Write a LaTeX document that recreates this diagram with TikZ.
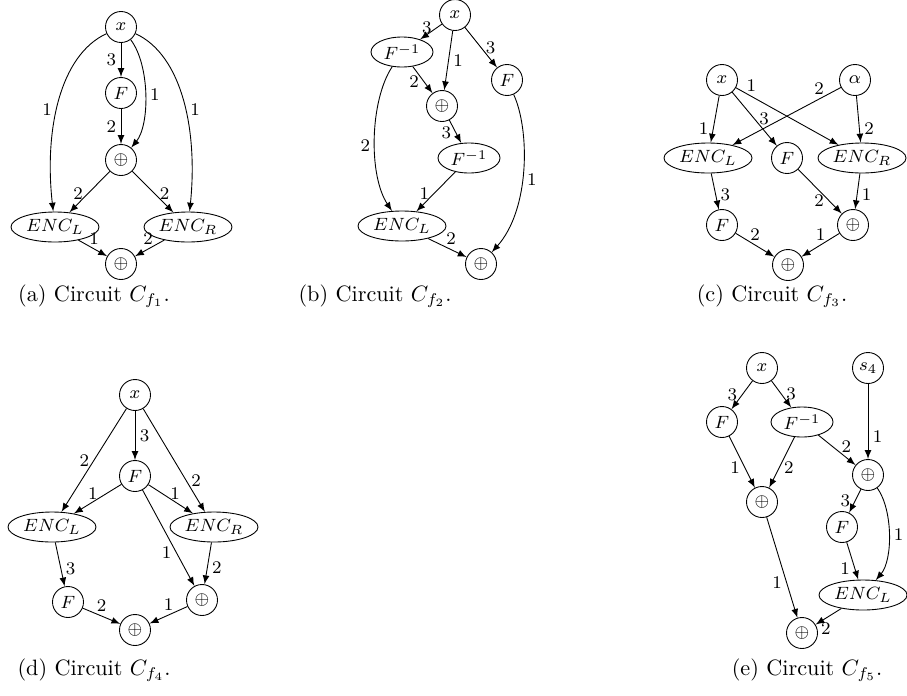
\documentclass[tikz,border=0pt]{standalone}
\usetikzlibrary{shapes.geometric}
\tikzset{
  every node/.style={font=\footnotesize},
  gate/.style={draw, circle, minimum size=13.95pt, inner sep=0pt},
  encbox/.style={draw, ellipse, minimum width=39.6pt, minimum height=13.5pt, inner sep=0pt},
  invbox/.style={draw, ellipse, minimum width=27.9pt, minimum height=13.5pt, inner sep=0pt},
  wire/.style={-latex},
  lbl/.style={inner sep=2pt},
  captext/.style={font=\normalsize, inner sep=0pt}
}
\begin{document}
\begin{tikzpicture}[x=0.45pt, y=-0.45pt]
\useasboundingbox (0,0) rectangle (907,695);

% ---------- (a) ----------
\node[gate] (a-x) at (121,27) {$x$};
\node[gate] (a-f) at (121,93) {$F$};
\node[gate] (a-o1) at (121,160) {$\oplus$};
\node[encbox] (a-el) at (55,227) {$ENC_L$};
\node[encbox] (a-er) at (188,227) {$ENC_R$};
\node[gate] (a-o2) at (121,264) {$\oplus$};
\draw[wire] (a-x) -- node[lbl,left] {3} (a-f);
\draw[wire] (a-f) -- node[lbl,left] {2} (a-o1);
\draw[wire] (a-x) .. controls (150,65) and (150,125) .. node[lbl,right] {1} (a-o1);
\draw[wire] (a-x) .. controls (60,55) and (44,130) .. node[lbl,left,pos=0.55] {1} (a-el);
\draw[wire] (a-x) .. controls (182,55) and (198,130) .. node[lbl,right,pos=0.55] {1} (a-er);
\draw[wire] (a-o1) -- node[lbl,left,pos=0.55] {2} (a-el);
\draw[wire] (a-o1) -- node[lbl,right,pos=0.55] {2} (a-er);
\draw[wire] (a-el) -- node[lbl,above,pos=0.55] {1} (a-o2);
\draw[wire] (a-er) -- node[lbl,above,pos=0.55] {2} (a-o2);
\node[captext] (a-cap) at (94,296) {(a) Circuit $C_{f_1}$.};

% ---------- (b) ----------
\node[gate] (b-x) at (455,15) {$x$};
\node[invbox] (b-i1) at (402,52) {$F^{-1}$};
\node[gate] (b-o1) at (442,106) {$\oplus$};
\node[gate] (b-f) at (507,80) {$F$};
\node[invbox] (b-i2) at (469,158) {$F^{-1}$};
\node[encbox] (b-el) at (402,226) {$ENC_L$};
\node[gate] (b-o2) at (481,264) {$\oplus$};
\draw[wire] (b-x) -- node[lbl,left,pos=0.25] {3} (b-i1);
\draw[wire] (b-x) -- node[lbl,right] {1} (b-o1);
\draw[wire] (b-x) -- node[lbl,right] {3} (b-f);
\draw[wire] (b-i1) -- node[lbl,left,pos=0.55] {2} (b-o1);
\draw[wire] (b-o1) -- node[lbl,left,pos=0.55] {3} (b-i2);
\draw[wire] (b-i1) .. controls (370,100) and (368,175) .. node[lbl,left,pos=0.55] {2} (b-el);
\draw[wire] (b-i2) -- node[lbl,left,pos=0.55] {1} (b-el);
\draw[wire] (b-el) -- node[lbl,above,pos=0.6] {2} (b-o2);
\draw[wire] (b-f) .. controls (530,130) and (530,210) .. node[lbl,right,pos=0.55] {1} (b-o2);
\node[captext] (b-cap) at (375,296) {(b) Circuit $C_{f_2}$.};

% ---------- (c) ----------
\node[gate] (c-x) at (722,80) {$x$};
\node[gate] (c-a) at (855,80) {$\alpha$};
\node[encbox] (c-el) at (708,158) {$ENC_L$};
\node[gate] (c-f1) at (787,158) {$F$};
\node[encbox] (c-er) at (862,158) {$ENC_R$};
\node[gate] (c-f2) at (722,225) {$F$};
\node[gate] (c-o1) at (853,225) {$\oplus$};
\node[gate] (c-o2) at (788,265) {$\oplus$};
\draw[wire] (c-x) -- node[lbl,left,pos=0.7] {1} (c-el);
\draw[wire] (c-x) -- node[lbl,right,pos=0.5] {3} (c-f1);
\draw[wire] (c-x) -- node[lbl,above,pos=0.15] {1} (c-er);
\draw[wire] (c-a) -- node[lbl,above,pos=0.2] {2} (c-el);
\draw[wire] (c-a) -- node[lbl,right,pos=0.7] {2} (c-er);
\draw[wire] (c-el) -- node[lbl,right,pos=0.6] {3} (c-f2);
\draw[wire] (c-f1) -- node[lbl,left,pos=0.7] {2} (c-o1);
\draw[wire] (c-er) -- node[lbl,right,pos=0.6] {1} (c-o1);
\draw[wire] (c-f2) -- node[lbl,above,pos=0.5] {2} (c-o2);
\draw[wire] (c-o1) -- node[lbl,above,pos=0.5] {1} (c-o2);
\node[captext] (c-cap) at (772,296) {(c) Circuit $C_{f_3}$.};

% ---------- (d) ----------
\node[gate] (d-x) at (135,395) {$x$};
\node[gate] (d-f1) at (135,476) {$F$};
\node[encbox] (d-el) at (52,527) {$ENC_L$};
\node[encbox] (d-er) at (214,527) {$ENC_R$};
\node[gate] (d-f2) at (68,602) {$F$};
\node[gate] (d-o1) at (202,600) {$\oplus$};
\node[gate] (d-o2) at (135,630) {$\oplus$};
\draw[wire] (d-x) -- node[lbl,right] {3} (d-f1);
\draw[wire] (d-x) -- node[lbl,left,pos=0.5] {2} (d-el);
\draw[wire] (d-x) -- node[lbl,right,pos=0.7] {2} (d-er);
\draw[wire] (d-f1) -- node[lbl,above,pos=0.6,inner sep=1pt] {1} (d-el);
\draw[wire] (d-f1) -- node[lbl,above,pos=0.6,inner sep=1pt] {1} (d-er);
\draw[wire] (d-f1) -- node[lbl,left,pos=0.65] {1} (d-o1);
\draw[wire] (d-el) -- node[lbl,right,pos=0.6] {3} (d-f2);
\draw[wire] (d-er) -- node[lbl,right,pos=0.6] {2} (d-o1);
\draw[wire] (d-f2) -- node[lbl,above,pos=0.5] {2} (d-o2);
\draw[wire] (d-o1) -- node[lbl,above,pos=0.5] {1} (d-o2);
\node[captext] (d-cap) at (94,670) {(d) Circuit $C_{f_4}$.};

% ---------- (e) ----------
\node[gate] (e-x) at (762,368) {$x$};
\node[gate] (e-s) at (868,368) {$s_4$};
\node[gate] (e-f1) at (722,422) {$F$};
\node[invbox] (e-i) at (802,422) {$F^{-1}$};
\node[gate] (e-o1) at (868,475) {$\oplus$};
\node[gate] (e-o2) at (762,502) {$\oplus$};
\node[gate] (e-f2) at (842,527) {$F$};
\node[encbox] (e-el) at (863,595) {$ENC_L$};
\node[gate] (e-o3) at (802,633) {$\oplus$};
\draw[wire] (e-x) -- node[lbl,left] {3} (e-f1);
\draw[wire] (e-x) -- node[lbl,right] {3} (e-i);
\draw[wire] (e-s) -- node[lbl,right,pos=0.7] {1} (e-o1);
\draw[wire] (e-i) -- node[lbl,above,pos=0.75] {2} (e-o1);
\draw[wire] (e-f1) -- node[lbl,left,pos=0.6] {1} (e-o2);
\draw[wire] (e-i) -- node[lbl,right,pos=0.6] {2} (e-o2);
\draw[wire] (e-o1) -- node[lbl,left,pos=0.5] {3} (e-f2);
\draw[wire] (e-o1) .. controls (893,510) and (893,560) .. node[lbl,right] {1} (e-el);
\draw[wire] (e-f2) -- node[lbl,left,pos=0.7] {1} (e-el);
\draw[wire] (e-o2) -- node[lbl,left,pos=0.65] {1} (e-o3);
\draw[wire] (e-el) -- node[lbl,below,pos=0.6] {2} (e-o3);
\node[captext] (e-cap) at (807,670) {(e) Circuit $C_{f_5}$.};
\end{tikzpicture}
\end{document}
